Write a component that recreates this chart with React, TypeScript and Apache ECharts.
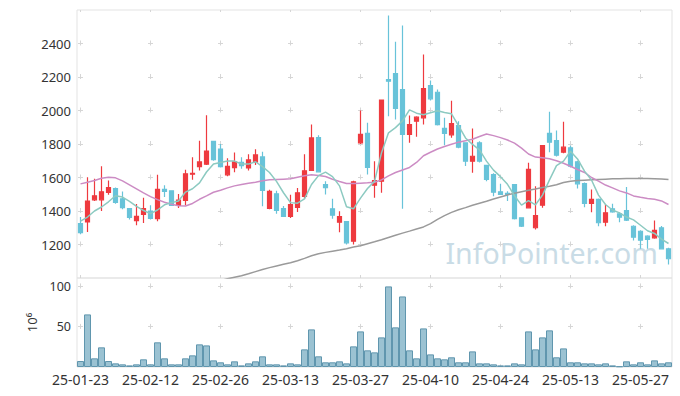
import React, { useEffect, useRef } from 'react';
import * as echarts from 'echarts';

const dates = [
  '25-01-23','25-01-24','25-01-31','25-02-03','25-02-04','25-02-05','25-02-06','25-02-07','25-02-10','25-02-11',
  '25-02-12','25-02-13','25-02-14','25-02-17','25-02-18','25-02-19','25-02-20','25-02-21','25-02-24','25-02-25',
  '25-02-26','25-02-27','25-02-28','25-03-04','25-03-05','25-03-06','25-03-07','25-03-10','25-03-11','25-03-12',
  '25-03-13','25-03-14','25-03-17','25-03-18','25-03-19','25-03-20','25-03-21','25-03-24','25-03-25','25-03-26',
  '25-03-27','25-03-28','25-03-31','25-04-01','25-04-02','25-04-03','25-04-04','25-04-07','25-04-08','25-04-09',
  '25-04-10','25-04-11','25-04-14','25-04-15','25-04-16','25-04-17','25-04-18','25-04-21','25-04-22','25-04-23',
  '25-04-24','25-04-25','25-04-28','25-04-29','25-04-30','25-05-02','25-05-07','25-05-08','25-05-09','25-05-12',
  '25-05-13','25-05-14','25-05-15','25-05-16','25-05-19','25-05-20','25-05-21','25-05-22','25-05-23','25-05-26',
  '25-05-27','25-05-28','25-05-29','25-05-30','25-06-02',
];

const opens = [
  1325,1335,1467,1467,1511,1533,1473,1414,1343,1380,
  1400,1354,1529,1521,1434,1463,1620,1665,1679,1816,
  1770,1616,1659,1691,1657,1691,1723,1416,1503,1414,
  1368,1422,1487,1642,1838,1558,1413,1333,1337,1220,
  1807,1863,1554,1578,2185,2221,2125,1857,1936,1956,
  2149,2109,1893,1855,1910,1807,1697,1807,1672,1618,
  1515,1505,1558,1359,1419,1300,1435,1863,1821,1751,
  1777,1694,1564,1445,1469,1333,1413,1383,1403,1309,
  1279,1250,1240,1300,1174,
];
const closes = [
  1271,1459,1491,1515,1539,1452,1420,1362,1368,1414,
  1356,1529,1517,1434,1465,1622,1625,1693,1758,1707,
  1665,1667,1693,1671,1705,1735,1523,1517,1404,1368,
  1438,1509,1640,1836,1634,1539,1375,1367,1210,1574,
  1857,1661,1582,2062,2175,2012,1857,1916,1960,2131,
  2070,1916,1863,1922,1781,1697,1727,1697,1588,1512,
  1499,1499,1355,1309,1648,1373,1791,1811,1733,1781,
  1668,1562,1445,1469,1330,1389,1395,1363,1345,1244,
  1226,1230,1284,1174,1115,
];
const lows = [
  1261,1275,1459,1400,1497,1444,1410,1349,1315,1329,
  1350,1339,1483,1430,1418,1434,1586,1642,1675,1700,
  1660,1608,1632,1652,1642,1675,1428,1410,1384,1364,
  1358,1394,1473,1640,1630,1499,1353,1273,1200,1200,
  1800,1618,1479,1509,1966,1946,1413,1807,1843,1916,
  2060,1910,1793,1837,1775,1668,1628,1690,1578,1488,
  1495,1459,1350,1305,1415,1290,1419,1751,1725,1745,
  1660,1534,1423,1393,1309,1309,1390,1333,1340,1224,
  1174,1174,1235,1170,1081,
];
const highs = [
  1364,1602,1592,1667,1582,1540,1517,1414,1442,1479,
  1434,1616,1554,1521,1501,1646,1721,1820,1972,1816,
  1800,1715,1750,1721,1739,1768,1754,1527,1521,1430,
  1497,1537,1739,1917,1852,1578,1473,1399,1337,1580,
  2000,1927,1697,2062,2567,2410,2507,1970,1965,2334,
  2179,2125,1956,2058,1936,1810,1892,1817,1675,1625,
  1562,1518,1560,1362,1688,1548,1791,1992,1881,1933,
  1790,1700,1570,1528,1475,1439,1443,1393,1544,1315,
  1285,1255,1343,1310,1180,
];

const ma5 = [
  1339,1364,1400,1424,1455,1491,1483,1458,1428,1403,
  1384,1406,1437,1450,1460,1513,1533,1568,1633,1681,
  1690,1698,1698,1681,1680,1694,1665,1630,1577,1509,
  1450,1447,1472,1558,1611,1632,1605,1550,1425,1413,
  1477,1534,1577,1747,1867,1898,1938,2004,1984,1975,
  1987,1999,1988,1980,1910,1836,1798,1765,1698,1644,
  1605,1559,1491,1435,1462,1437,1495,1586,1671,1698,
  1757,1711,1638,1585,1495,1439,1406,1389,1364,1347,
  1315,1282,1266,1232,1206,
];
const ma20 = [
  1562,1572,1582,1596,1602,1598,1580,1556,1532,1508,
  1486,1468,1452,1440,1432,1430,1445,1470,1490,1512,
  1524,1538,1550,1558,1566,1572,1580,1586,1588,1590,
  1592,1602,1610,1617,1612,1606,1590,1576,1564,1564,
  1566,1568,1572,1586,1610,1630,1645,1660,1690,1730,
  1751,1770,1785,1798,1811,1820,1828,1845,1860,1850,
  1838,1824,1805,1775,1740,1722,1718,1712,1700,1685,
  1667,1648,1630,1600,1578,1555,1538,1520,1508,1490,
  1482,1475,1470,1460,1439,
];
const ma60 = [
  null,null,null,null,null,null,null,null,null,null,
  null,null,null,null,null,null,null,null,965,975,
  985,995,1004,1013,1025,1038,1051,1062,1072,1082,
  1091,1103,1117,1133,1145,1153,1160,1167,1175,1185,
  1193,1205,1216,1228,1242,1255,1268,1280,1293,1305,
  1325,1350,1372,1392,1407,1420,1434,1446,1458,1472,
  1484,1496,1506,1515,1524,1531,1540,1548,1557,1570,
  1578,1582,1584,1586,1588,1590,1592,1593,1594,1594,
  1594,1594,1593,1591,1588,
];

const volumes = [
  7.4,65,10.7,24.3,7.4,4.5,3.3,2,3.3,9.5,
  3.3,30.5,10.7,3.3,3.3,10.7,14.4,28,26.7,8.2,
  5.8,3.3,7,2,4.5,7,13.2,3.3,3.3,2,
  4.5,3.3,21.8,46.5,13.2,5.8,5.8,7,4.5,25.5,
  44,20.6,18.1,36.6,99.6,49,87.2,20.6,10.7,47.7,
  15.6,10.7,9.5,12,5.8,5.8,19.3,4.5,4.5,3.3,
  2,2,4.5,3.3,44,21.8,36.6,45.3,12,23,
  5.8,5.8,4.5,4.5,3.3,4.5,2,0.8,7,3.3,
  5.8,3.3,8.2,4.5,5.8,
];

const priceTicks = { min: 1000, max: 2600, interval: 200 };
const volTicks = { min: 0, max: 110, interval: 50 };

export default function App() {
  const ref = useRef<HTMLDivElement>(null);
  useEffect(() => {
    if (!ref.current) return;
    const chart = echarts.init(ref.current, null, { renderer: 'svg' });
    const candle = dates.map((_, i) => [opens[i], closes[i], lows[i], highs[i]]);
    const cross = '#d6d6d6';
    const plain = (v: number) => String(v);
    chart.setOption({
      animation: false,
      backgroundColor: '#ffffff',
      textStyle: { fontFamily: 'Noto Sans' },
      graphic: [
        {
          type: 'text',
          right: 22,
          top: 238,
          z: 0,
          style: {
            text: 'InfoPointer.com',
            fontSize: 28.5,
            fontFamily: 'Noto Sans',
            fill: '#c9dce6',
          },
        },
      ],
      grid: [
        { left: 77, right: 8, top: 10, height: 268, show: true, borderColor: '#e3e3e3', borderWidth: 1 },
        { left: 77, right: 8, top: 278, height: 89, show: true, borderColor: '#e3e3e3', borderWidth: 1 },
      ],
      xAxis: [
        {
          type: 'category', gridIndex: 0, data: dates,
          axisLine: { show: false }, axisTick: { show: false }, axisLabel: { show: false },
          splitLine: { show: true, interval: 9, alignWithLabel: true,
            lineStyle: { color: cross, width: 1, type: [5, 28.5], dashOffset: 2.5 } },
        },
        {
          type: 'category', gridIndex: 1, data: dates,
          axisLine: { show: false }, axisTick: { show: false },
          axisLabel: { interval: 9, fontSize: 14, color: '#333', margin: 5 },
          splitLine: { show: true, interval: 9, alignWithLabel: true,
            lineStyle: { color: cross, width: 1, type: [5, 35.45], dashOffset: 34.85 } },
        },
      ],
      yAxis: [
        {
          type: 'value', gridIndex: 0, ...priceTicks,
          axisLine: { show: false }, axisTick: { show: false },
          axisLabel: { fontSize: 13, color: '#333', margin: 6, showMinLabel: false, showMaxLabel: false, formatter: plain },
          splitLine: { show: true, showMinLine: false, showMaxLine: false,
            lineStyle: { color: cross, width: 1, type: [5, 65], dashOffset: 69 } },
        },
        {
          type: 'value', gridIndex: 1, ...volTicks,
          name: '10⁶', nameLocation: 'middle', nameRotate: 90, nameGap: 36,
          nameTextStyle: { fontSize: 13, color: '#333' },
          axisLine: { show: false }, axisTick: { show: false },
          axisLabel: { fontSize: 12.5, color: '#333', margin: 6, showMinLabel: false, showMaxLabel: false, formatter: plain },
          splitLine: { show: true, showMinLine: false, showMaxLine: false,
            lineStyle: { color: cross, width: 1, type: [5, 65], dashOffset: 69 } },
        },
      ],
      series: [
        {
          type: 'candlestick', xAxisIndex: 0, yAxisIndex: 0, data: candle, barWidth: 5,
          itemStyle: { color: '#ee3a3f', color0: '#68c3d9', borderColor: '#ee3a3f', borderColor0: '#68c3d9', borderWidth: 1.2 },
        },
        {
          type: 'line', xAxisIndex: 0, yAxisIndex: 0, data: ma60, showSymbol: false, symbol: 'none',
          lineStyle: { color: '#9a9a9a', width: 1.5 }, itemStyle: { color: '#9a9a9a' },
        },
        {
          type: 'line', xAxisIndex: 0, yAxisIndex: 0, data: ma20, showSymbol: false, symbol: 'none',
          lineStyle: { color: '#cc8cc4', width: 1.5 }, itemStyle: { color: '#cc8cc4' },
        },
        {
          type: 'line', xAxisIndex: 0, yAxisIndex: 0, data: ma5, showSymbol: false, symbol: 'none',
          lineStyle: { color: '#8ccac1', width: 1.5 }, itemStyle: { color: '#8ccac1' },
        },
        {
          type: 'bar', xAxisIndex: 1, yAxisIndex: 1, data: volumes, barCategoryGap: '0%',
          itemStyle: { color: '#9bc2d2', borderColor: '#6096ae', borderWidth: 1 },
        },
      ],
    });
    return () => chart.dispose();
  }, []);
  return <div ref={ref} style={{ position: 'fixed', left: 0, top: 0, width: 680, height: 396 }} />;
}
